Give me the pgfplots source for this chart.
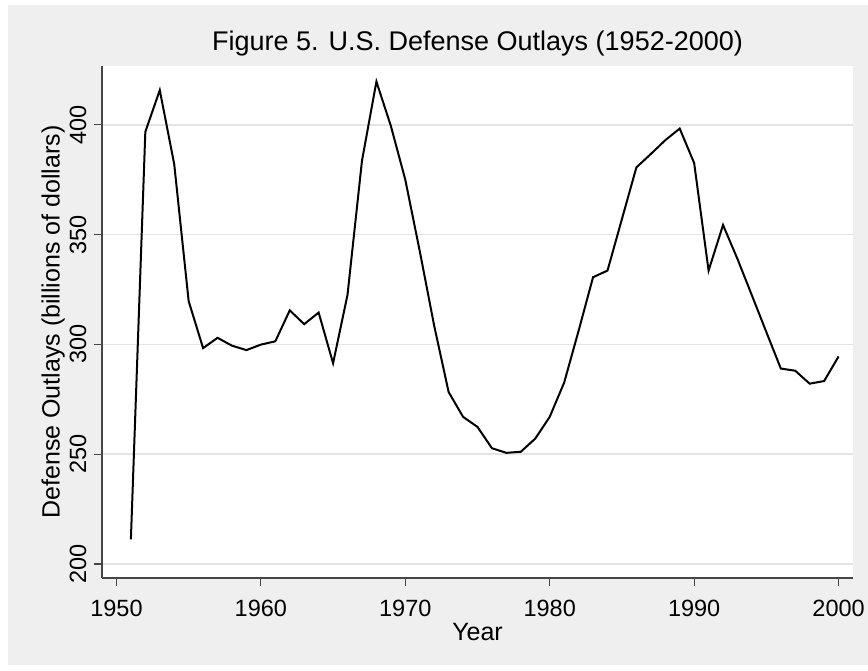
\documentclass[border=0pt]{standalone}
\usepackage{fontspec}
\setmainfont{Liberation Sans}
\usepackage{pgfplots}
\pgfplotsset{compat=1.18}
\definecolor{bggray}{RGB}{239,239,239}
\definecolor{gridgray}{RGB}{228,228,228}
\definecolor{axgray}{RGB}{70,70,70}
\begin{document}
\begin{tikzpicture}[x=1bp,y=1bp]
\useasboundingbox (0,0) rectangle (868,671);
\fill[bggray] (8,6) rectangle (868,666);
\begin{axis}[
  at={(102bp,93bp)}, anchor=south west,
  scale only axis, width=751bp, height=512bp,
  xmin=1949, xmax=2001, ymin=193.6, ymax=426.8,
  axis background/.style={fill=white},
  axis x line*=bottom, axis y line*=left,
  axis line style={axgray, line width=1.2bp},
  xtick={1950,1960,...,2000}, ytick={200,250,...,400},
  tick align=outside, major tick length=8bp,
  every tick/.style={axgray, line width=1.2bp},
  ymajorgrids, major grid style={gridgray, line width=1.5bp},
  /pgf/number format/assume math mode=true,
  /pgf/number format/1000 sep={},
  tick label style={font=\fontsize{23.5bp}{28bp}\selectfont, inner sep=0pt},
  xticklabel style={anchor=north, yshift=-14bp},
  yticklabel style={rotate=90, anchor=base, yshift=8bp},
  title={Figure 5. U.S. Defense Outlays (1952-2000)},
  title style={font=\fontsize{27bp}{32bp}\selectfont, at={(axis description cs:0.5,1.0195)}, anchor=base, inner sep=0pt},
  xlabel={Year},
  xlabel style={font=\fontsize{25bp}{30bp}\selectfont, at={(axis description cs:0.5,-0.0879)}, anchor=north, inner sep=0pt},
  ylabel={Defense Outlays (billions of dollars)},
  ylabel style={font=\fontsize{25bp}{30bp}\selectfont, at={(axis description cs:-0.0565,0.5)}, rotate=0, anchor=base, inner sep=0pt},
  clip=false,
]
\addplot[black, line width=2bp, line join=miter, mark=none] table {
x y
1951 211.2
1952 396.8
1953 415.8
1954 382.1
1955 319.7
1956 298.3
1957 303.0
1958 299.4
1959 297.4
1960 299.9
1961 301.4
1962 315.5
1963 309.2
1964 314.5
1965 291.4
1966 322.6
1967 383.6
1968 419.7
1969 399.5
1970 375.0
1971 342.5
1972 308.5
1973 278.3
1974 267.0
1975 262.4
1976 252.7
1977 250.6
1978 251.1
1979 257.1
1980 267.0
1981 282.6
1982 306.2
1983 330.6
1984 333.6
1985 357.1
1986 380.6
1987 386.7
1988 393.0
1989 398.3
1990 382.6
1991 333.6
1992 354.4
1993 338.9
1994 322.3
1995 305.6
1996 289.0
1997 288.0
1998 282.1
1999 283.3
2000 294.5
};
\end{axis}
\end{tikzpicture}
\end{document}
